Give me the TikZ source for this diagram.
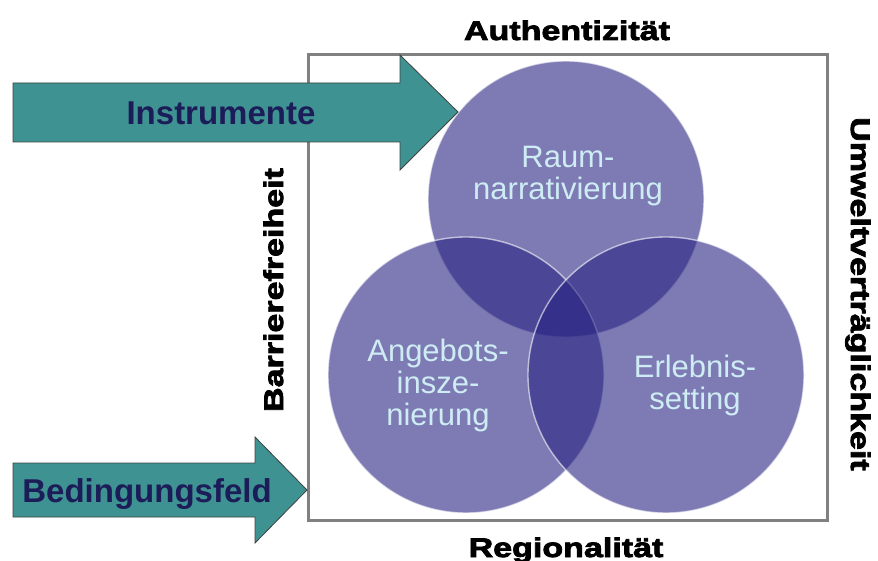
\documentclass[tikz,border=0pt]{standalone}
\usepackage{fontspec}
\setmainfont{Liberation Sans}
\newfontfamily\heavyfont[FakeStretch=1.26,FakeBold=3]{Liberation Sans}
\usepackage{tikz}
\usetikzlibrary{positioning}
\definecolor{venn}{RGB}{40,35,130}
\definecolor{arrowteal}{RGB}{62,146,146}
\definecolor{navytext}{RGB}{28,28,88}
\definecolor{circletext}{RGB}{206,236,244}
\definecolor{boxgray}{RGB}{128,128,128}

\begin{document}
\begin{tikzpicture}[x=1pt,y=-1pt]
    \useasboundingbox (0,0) rectangle (878,561);
    \tikzset{
        bubble/.style={circle,minimum size=276pt,inner sep=0pt,fill=venn,fill opacity=0.6,draw=white,draw opacity=0.6,line width=1.4pt},
        bubbletext/.style={text=circletext,align=center,font=\fontsize{31}{32}\selectfont},
        blockarrow/.style={fill=arrowteal,draw=black!75,line width=0.8pt},
        arrowtext/.style={text=navytext,anchor=base,font=\bfseries\fontsize{33}{36}\selectfont},
        side/.style={anchor=base,font=\heavyfont\bfseries\fontsize{27}{30}\selectfont}
    }
    \draw[boxgray,line width=3pt] (308,55) rectangle (827,520);
    \begin{scope}[every node/.style={bubble}]
    \node (raum) at (566,199) {};
    \node (angebot) at (466,375) {};
    \node (erlebnis) at (666,375) {};
    \end{scope}
    \filldraw[blockarrow] (13,83) -- (400,83) -- (400,55) -- (458,112) -- (400,170) -- (400,142) -- (13,142) -- cycle;
    \filldraw[blockarrow] (13,463) -- (255,463) -- (255,437) -- (307,490) -- (255,543) -- (255,517) -- (13,517) -- cycle;
    \node[arrowtext] (instr) at (221,125) {Instrumente};
    \node[arrowtext] (bedfeld) at (147,502) {Bedingungsfeld};
    \node[bubbletext] (raumtxt) at (568,176) {Raum-\\narrativierung};
    \node[bubbletext] (angebottxt) at (438,385) {Angebots-\\insze-\\nierung};
    \node[bubbletext] (erlebnistxt) at (695,385) {Erlebnis-\\setting};
    \node[side] (auth) at (567,40) {Authentizität};
    \node[side] (region) at (566,557) {Regionalität};
    \node[side,rotate=-90] (umwelt) at (851,294) {Umweltverträglichkeit};
    \node[side,rotate=90] (barriere) at (283,290) {Barrierefreiheit};
\end{tikzpicture}
\end{document}
